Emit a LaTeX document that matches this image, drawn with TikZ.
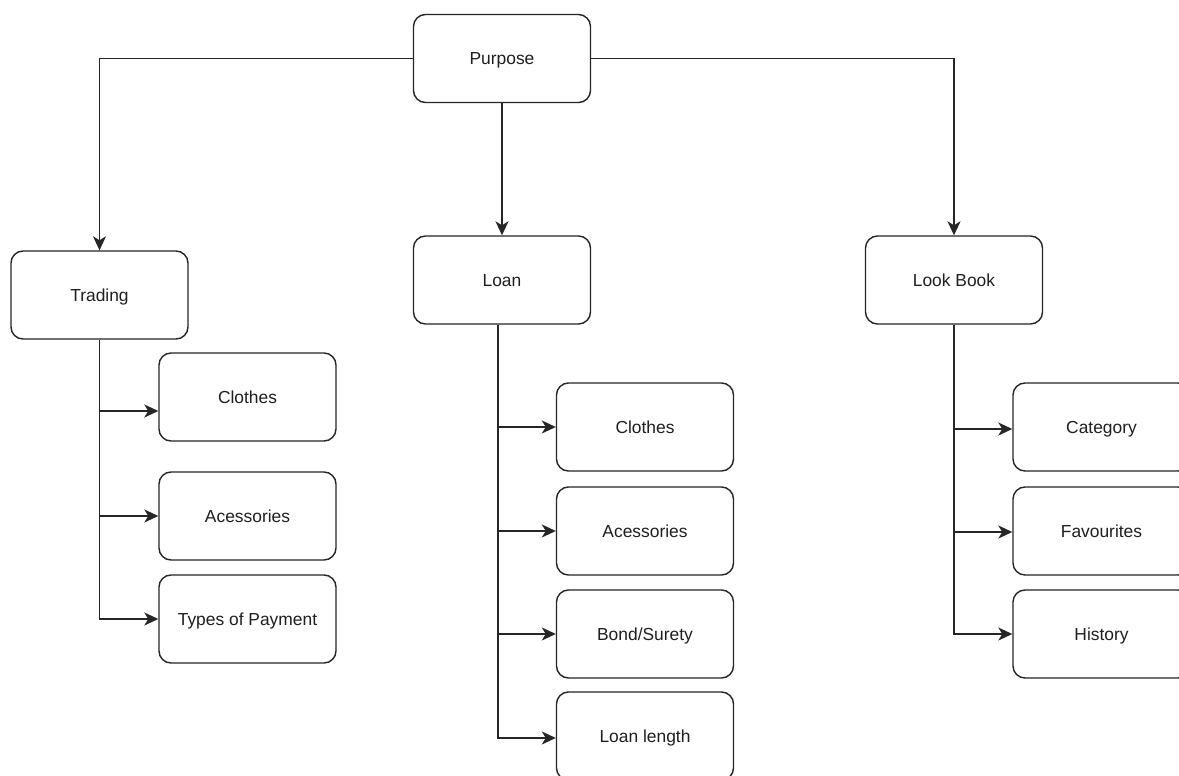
\documentclass[tikz,border=0pt]{standalone}
\usepackage{fontspec}
\setmainfont{Liberation Sans}
\usetikzlibrary{arrows.meta}
\begin{document}
\begin{tikzpicture}[x=1pt,y=-1pt,
  box/.style={draw=black!85, line width=1.4pt, rounded corners=12pt,
    minimum width=177pt, minimum height=88pt, inner sep=0pt,
    text height=12.5pt, text depth=0pt,
    font=\fontsize{17.4}{20}\selectfont, text=black!88},
  link/.style={draw=black!85, line width=1.5pt,
    -{Stealth[length=14pt,width=13pt,inset=4pt]}}]
\useasboundingbox (0,0) rectangle (1179,776);
\clip (0,0) rectangle (1179,776);
\fill[white] (0,0) rectangle (1179,776);

% top level
\node[box] (purpose) at (502,58.5) {Purpose};
\node[box] (trading) at (99.5,295) {Trading};
\node[box] (loan) at (502,280) {Loan};
\node[box] (look) at (954,280) {Look Book};

% trading branch
\node[box] (tc1) at (247.5,397) {Clothes};
\node[box] (tc2) at (247.5,516) {Acessories};
\node[box] (tc3) at (247.5,619) {Types of Payment};

% loan branch
\node[box] (lc1) at (645,427) {Clothes};
\node[box] (lc2) at (645,531) {Acessories};
\node[box] (lc3) at (645,634) {Bond/Surety};
\node[box] (lc4) at (645,736) {Loan length};

% look book branch
\node[box] (bc1) at (1101.5,427) {Category};
\node[box] (bc2) at (1101.5,531) {Favourites};
\node[box] (bc3) at (1101.5,634) {History};

% connectors from the root
\draw[link] (purpose.west) -| (trading.north);
\draw[link] (purpose.south) -- (loan.north);
\draw[link] (purpose.east) -| (look.north);

% connectors to the leaves
\draw[link] (trading.south) |- ([yshift=-14pt]tc1.west);
\draw[link] (trading.south) |- (tc2.west);
\draw[link] (trading.south) |- (tc3.west);

\coordinate (loanfoot) at ([xshift=-4pt]loan.south);
\draw[link] (loanfoot) |- (lc1.west);
\draw[link] (loanfoot) |- (lc2.west);
\draw[link] (loanfoot) |- (lc3.west);
\draw[link] (loanfoot) |- ([yshift=-2pt]lc4.west);

\draw[link] (look.south) |- ([yshift=-2pt]bc1.west);
\draw[link] (look.south) |- ([yshift=-1pt]bc2.west);
\draw[link] (look.south) |- (bc3.west);
\end{tikzpicture}
\end{document}
